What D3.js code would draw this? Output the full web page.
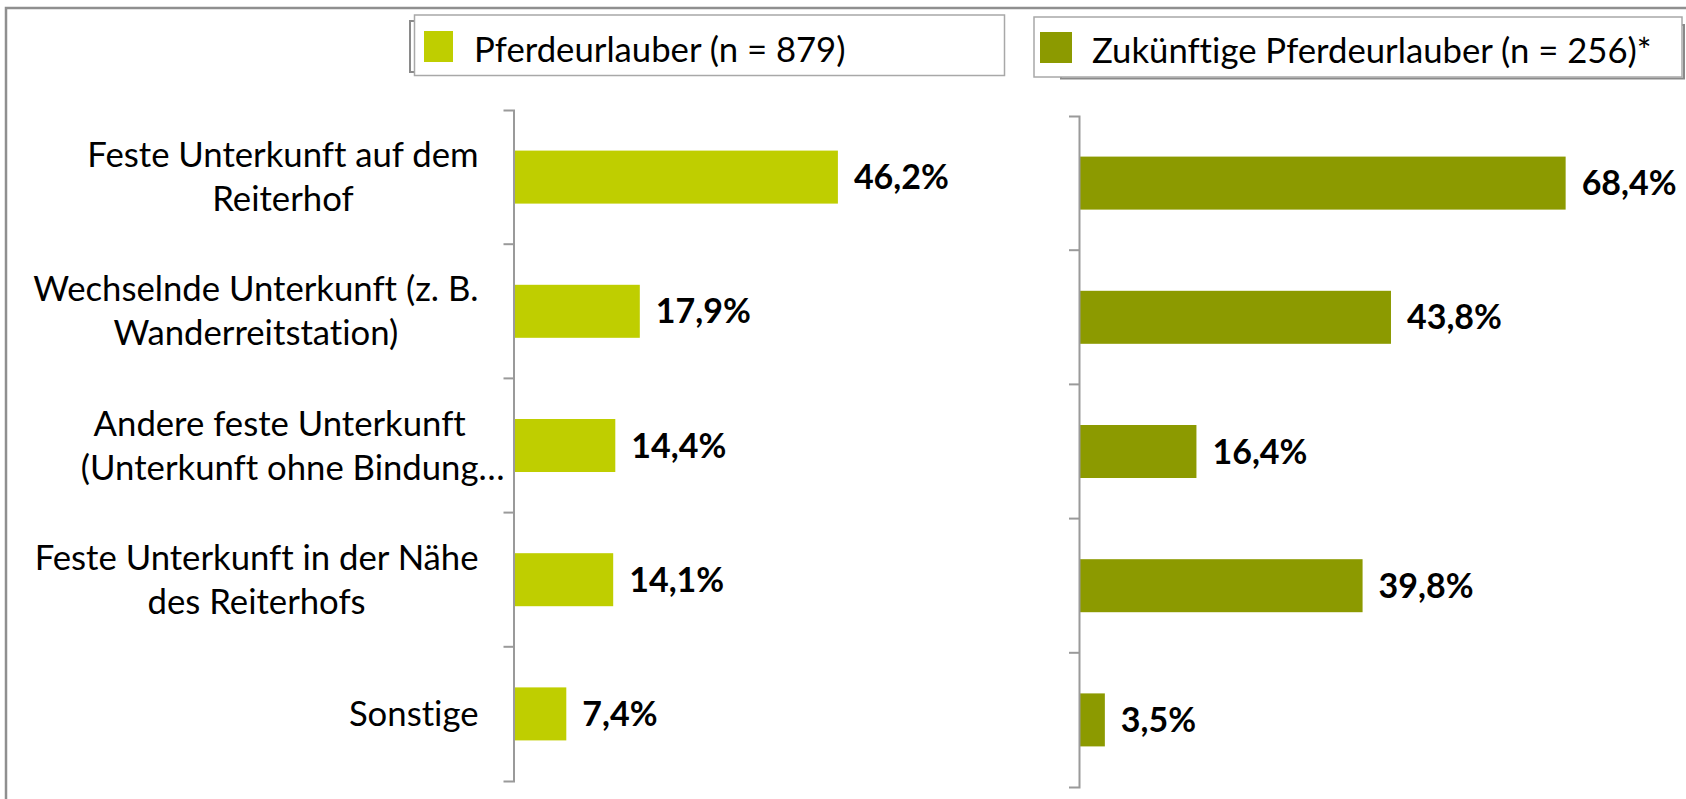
<!DOCTYPE html>
<html>
<head>
<meta charset="utf-8">
<script src="https://cdn.jsdelivr.net/npm/d3@7"></script>
<style>
  html, body { margin: 0; padding: 0; background: #fff; }
  svg { display: block; }
  text { font-family: Lato, "Noto Sans", sans-serif; fill: #000; font-variant-ligatures: none; font-feature-settings: "liga" 0, "dlig" 0; }
</style>
</head>
<body>
<svg id="chart" width="1686" height="799"></svg>
<script>
// ---- data ----
const categories = [
  "Feste Unterkunft auf dem Reiterhof",
  "Wechselnde Unterkunft (z. B. Wanderreitstation)",
  "Andere feste Unterkunft (Unterkunft ohne Bindung…",
  "Feste Unterkunft in der Nähe des Reiterhofs",
  "Sonstige"
];
const categoryLines = [
  ["Feste Unterkunft auf dem", "Reiterhof"],
  ["Wechselnde Unterkunft (z. B.", "Wanderreitstation)"],
  ["Andere feste Unterkunft", "(Unterkunft ohne Bindung…"],
  ["Feste Unterkunft in der Nähe", "des Reiterhofs"],
  ["Sonstige"]
];
const seriesNames = ["Pferdeurlauber (n = 879)", "Zukünftige Pferdeurlauber (n = 256)*"];
const pferdeurlauber = [46.2, 17.9, 14.4, 14.1, 7.4];
const zukuenftige = [68.4, 43.8, 16.4, 39.8, 3.5];
const colors = ["#BFCE00", "#8C9A00"];

// ---- setup ----
const svg = d3.select("#chart");
const de = d3.formatLocale({decimal: ",", thousands: ".", grouping: [3], currency: ["", " €"]});
const fmt = v => de.format(".1f")(v) + "%";
const axisColor = "#9a9a9a";

svg.append("rect").attr("x", 0).attr("y", 0).attr("width", 1686).attr("height", 799).attr("fill", "#fff");
// outer frame (only top & left visible)
svg.append("rect").attr("x", 6).attr("y", 8).attr("width", 1720).attr("height", 840)
  .attr("fill", "none").attr("stroke", "#8f8f8f").attr("stroke-width", 2.5);

function panel(values, color, axisX, top, bottom, xMax, pxWidth, withLabels) {
  const y = d3.scaleBand().domain(categories).range([top, bottom])
    .paddingInner(0.605).paddingOuter(0.3025);
  const x = d3.scaleLinear().domain([0, xMax]).range([axisX + 1, axisX + 1 + pxWidth]);
  const g = svg.append("g");

  // bars
  g.selectAll("rect.bar").data(values).join("rect")
    .attr("class", "bar")
    .attr("x", x(0))
    .attr("y", (d, i) => y(categories[i]))
    .attr("width", d => x(d) - x(0))
    .attr("height", y.bandwidth())
    .attr("fill", color);

  // axis
  const ax = g.append("g").attr("transform", `translate(${axisX},0)`)
    .call(d3.axisLeft(y).tickSize(0).tickSizeOuter(10).tickFormat(""));
  ax.select(".domain").attr("stroke", axisColor).attr("stroke-width", 2);
  const step = y.step();
  const inner = d3.range(1, categories.length).map(i => top + i * step);
  g.selectAll("line.tk").data(inner).join("line")
    .attr("class", "tk")
    .attr("x1", axisX - 10).attr("x2", axisX)
    .attr("y1", d => d).attr("y2", d => d)
    .attr("stroke", axisColor).attr("stroke-width", 2);

  // value labels
  g.selectAll("text.val").data(values).join("text")
    .attr("class", "val")
    .attr("x", d => x(d) + 16)
    .attr("y", (d, i) => y(categories[i]) + y.bandwidth() / 2 + 12)
    .attr("font-size", 34).attr("font-weight", 700)
    .text(d => fmt(d));

  // category labels
  if (withLabels) {
    const right = axisX - 35;
    const lh = 44;
    categoryLines.forEach((lines, i) => {
      const cy = y(categories[i]) + y.bandwidth() / 2;
      const n = lines.length;
      const tg = g.append("g");
      const texts = lines.map((ln, j) => tg.append("text")
        .attr("font-size", 34.7)
        .attr("y", cy + (j - (n - 1) / 2) * lh + 12)
        .text(ln.replace("…", "")));
      const widths = texts.map(t => t.node().getComputedTextLength());
      const maxW = d3.max(widths);
      const center = right - maxW / 2;
      texts.forEach((t, j) => {
        t.attr("x", center - widths[j] / 2).text(lines[j]);
      });
    });
  }
}

panel(pferdeurlauber, colors[0], 513.5, 110, 781, 50, 350, true);
panel(zukuenftige, colors[1], 1079, 116, 787, 70, 497, false);

// ---- legends ----
function legend(box, shadow, sw, tx, ty, color, label) {
  svg.append("rect").attr("x", shadow[0]).attr("y", shadow[1]).attr("width", shadow[2]).attr("height", shadow[3])
    .attr("fill", "#fff").attr("stroke", "#8a8a8a").attr("stroke-width", 2);
  svg.append("rect").attr("x", box[0]).attr("y", box[1]).attr("width", box[2]).attr("height", box[3])
    .attr("fill", "#fff").attr("stroke", "#a8a8a8").attr("stroke-width", 1.5);
  svg.append("rect").attr("x", sw[0]).attr("y", sw[1]).attr("width", sw[2]).attr("height", sw[3]).attr("fill", color);
  svg.append("text").attr("x", tx).attr("y", ty).attr("font-size", 34.7).text(label);
}
legend([414.5, 15, 590, 60.5], [410, 21, 400, 51], [424, 31, 29, 31], 474, 62, colors[0], seriesNames[0]);
legend([1034, 17, 648, 60], [1061, 25, 623, 53.5], [1040, 32, 32, 31], 1092, 63, colors[1], seriesNames[1]);
</script>
</body>
</html>
